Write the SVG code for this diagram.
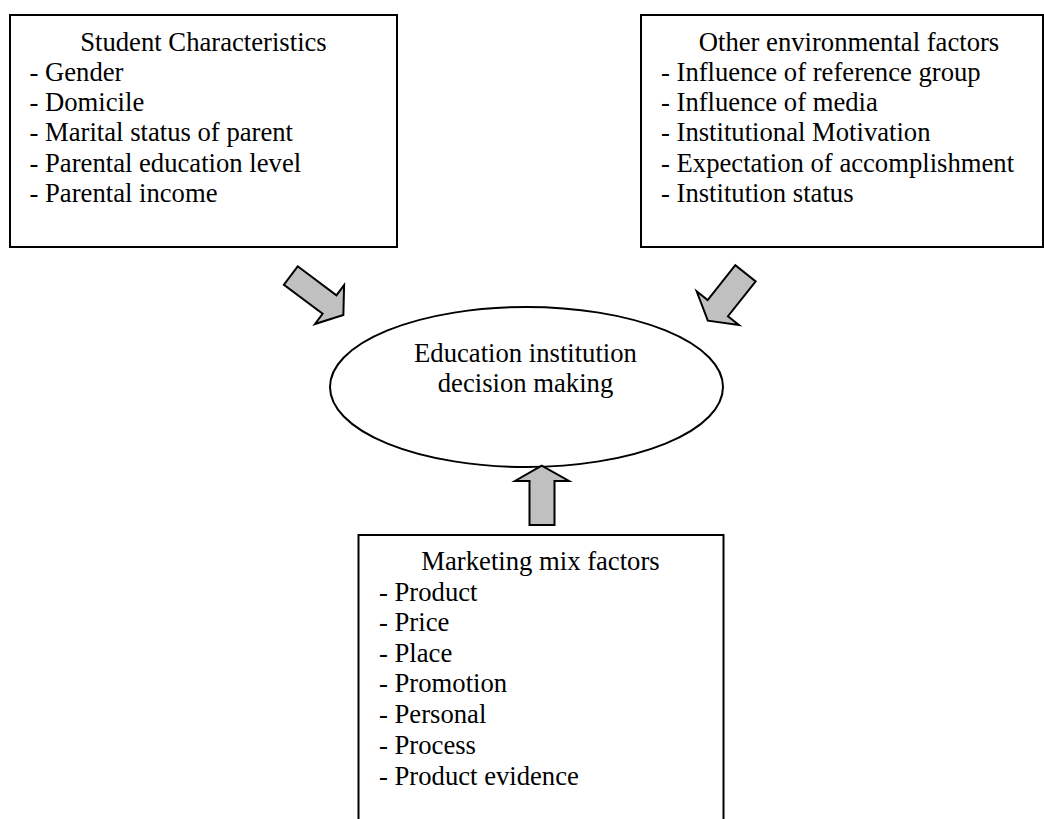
<svg xmlns="http://www.w3.org/2000/svg" width="1044" height="819" viewBox="0 0 1044 819">
<style>
.box{fill:#fff;stroke:#000;stroke-width:2}
.ell{fill:#fff;stroke:#000;stroke-width:2}
.arr{fill:#c0c0c0;stroke:#000;stroke-width:2;stroke-linejoin:miter}
text{font-family:"Liberation Serif","Times New Roman",serif;font-size:26.67px;fill:#000}
.c{text-anchor:middle}
</style>
<rect width="1044" height="819" fill="#fff"/>
<g id="student">
<rect class="box" x="10" y="15" width="387" height="232"/>
<text class="c" x="203.5" y="50.5">Student Characteristics</text>
<text x="29.5" y="80.8">- Gender</text>
<text x="29.5" y="111.1">- Domicile</text>
<text x="29.5" y="141.4">- Marital status of parent</text>
<text x="29.5" y="171.7">- Parental education level</text>
<text x="29.5" y="202">- Parental income</text>
</g>
<g id="environment">
<rect class="box" x="641" y="15" width="402" height="232"/>
<text class="c" x="849" y="50.5">Other environmental factors</text>
<text x="661" y="80.8">- Influence of reference group</text>
<text x="661" y="111.1">- Influence of media</text>
<text x="661" y="141.4">- Institutional Motivation</text>
<text x="661" y="171.7">- Expectation of accomplishment</text>
<text x="661" y="202">- Institution status</text>
</g>
<g id="decision">
<ellipse class="ell" cx="526.5" cy="387" rx="196.5" ry="80"/>
<text class="c" x="525.5" y="361.7">Education institution</text>
<text class="c" x="525.5" y="391.7">decision making</text>
</g>
<g id="marketing">
<rect class="box" x="358.5" y="535" width="365" height="300"/>
<text class="c" x="540.5" y="570">Marketing mix factors</text>
<text x="379" y="600.5">- Product</text>
<text x="379" y="631">- Price</text>
<text x="379" y="661.5">- Place</text>
<text x="379" y="692">- Promotion</text>
<text x="379" y="722.5">- Personal</text>
<text x="379" y="753.5">- Process</text>
<text x="379" y="784.5">- Product evidence</text>
</g>
<g id="connectors">
<polygon class="arr" transform="translate(290.8,275.5) rotate(36.87)" points="0,-11.5 48.4,-11.5 48.4,-24.3 65.7,0 48.4,24.3 48.4,11.5 0,11.5"/>
<polygon class="arr" transform="translate(745.5,273.3) rotate(128.5)" points="0,-13 44.5,-13 44.5,-27 60.5,0 44.5,27 44.5,13 0,13"/>
<polygon class="arr" points="529.5,525 529.5,481 515,481 541.7,465.7 569,481 554.5,481 554.5,525"/>
</g>
</svg>
